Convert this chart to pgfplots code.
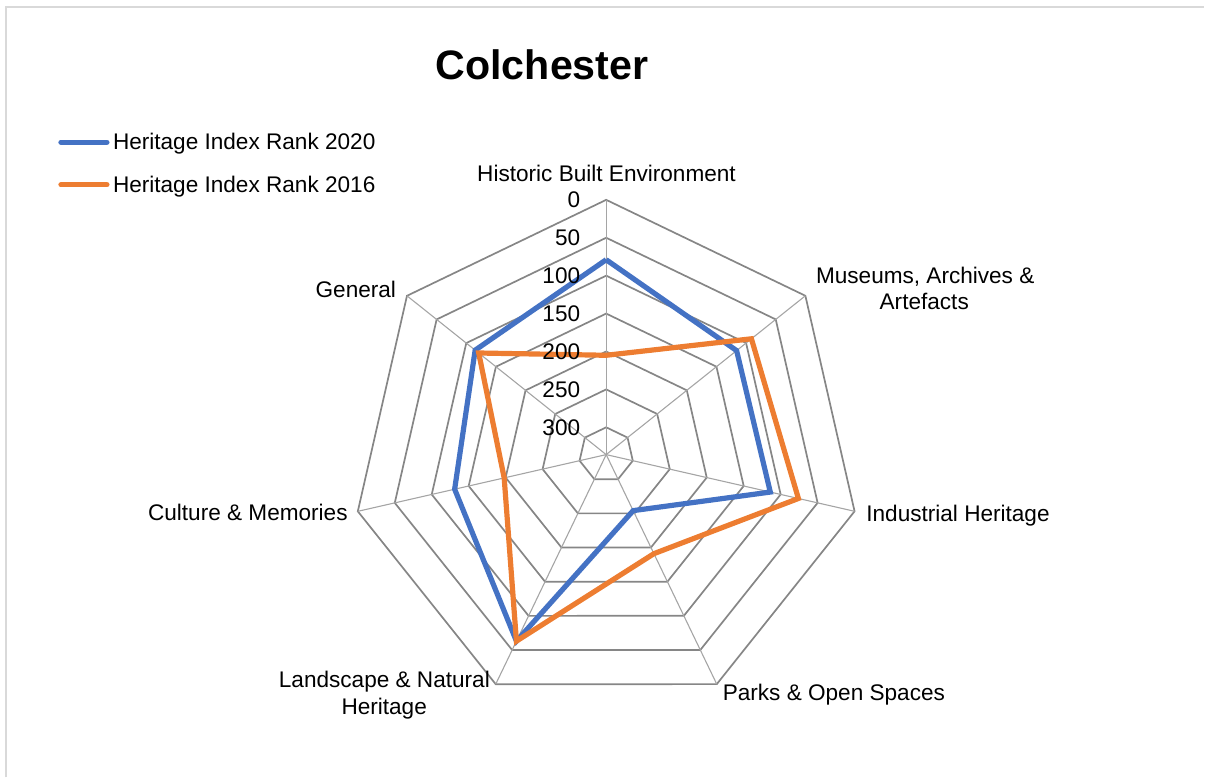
\documentclass[border=0pt]{standalone}
\usepackage{pgfplots}
\pgfplotsset{compat=1.18}
\usepackage{pgfplotstable}
\usepackage{fontspec}
\setmainfont{Liberation Sans}

\definecolor{s2020}{RGB}{68,114,196}
\definecolor{s2016}{RGB}{237,125,49}
\definecolor{ringc}{RGB}{134,134,134}
\definecolor{spokec}{RGB}{165,165,165}
\definecolor{framec}{RGB}{217,217,217}

% rank per category (0 = Historic Built Environment, clockwise); last row closes the loop
\pgfplotstableread{
idx r2020 r2016
0   79    205
1   116   91
2   114   76
3   254   191
4   63    63
5   131   198
6   115   121
7   79    205
}\ranks

% centre of the web in picture pixels, pixels per rank unit, rank at the centre
\def\cx{606.7}
\def\cy{455}
\def\pu{0.7589}
\def\rmax{336}

\newcommand{\lab}{\fontsize{11.3}{13}\selectfont}

\begin{document}
\begin{tikzpicture}
\begin{axis}[
    width=602.5pt, height=389pt, scale only axis,
    xmin=0, xmax=1205, ymin=0, ymax=778,
    y dir=reverse,
    hide axis, clip=false,
]
% frame edges
\draw[framec, line width=1pt] (axis cs:6,778) -- (axis cs:6,7) -- (axis cs:1205,7);

% rings
\pgfplotsinvokeforeach{0,50,100,150,200,250,300}{
  \draw[ringc, line width=0.85pt, line join=miter]
    (axis cs:\cx,{\cy-\pu*(\rmax-#1)})
    \foreach \k in {1,...,6}{
      -- (axis cs:{\cx+\pu*(\rmax-#1)*cos(90-\k*360/7)},{\cy-\pu*(\rmax-#1)*sin(90-\k*360/7)})
    } -- cycle;
}
% spokes
\pgfplotsinvokeforeach{0,...,6}{
  \draw[spokec, line width=0.55pt] (axis cs:\cx,\cy) --
    (axis cs:{\cx+\pu*\rmax*cos(90-#1*360/7)},{\cy-\pu*\rmax*sin(90-#1*360/7)});
}

\addplot[s2020, line width=2.6pt, line join=miter, no marks] table[
  x expr={\cx+\pu*(\rmax-\thisrow{r2020})*cos(90-\thisrow{idx}*360/7)},
  y expr={\cy-\pu*(\rmax-\thisrow{r2020})*sin(90-\thisrow{idx}*360/7)}] {\ranks};
\addplot[s2016, line width=2.6pt, line join=miter, no marks] table[
  x expr={\cx+\pu*(\rmax-\thisrow{r2016})*cos(90-\thisrow{idx}*360/7)},
  y expr={\cy-\pu*(\rmax-\thisrow{r2016})*sin(90-\thisrow{idx}*360/7)}] {\ranks};

% rank labels on the top spoke
\pgfplotsinvokeforeach{0,50,100,150,200,250,300}{
  \node[anchor=base east, inner sep=0pt, font=\lab]
    at (axis cs:581,{\cy-\pu*(\rmax-#1)+7.7}) {#1};
}

% category labels
\node[anchor=base, inner sep=0pt, font=\lab] at (axis cs:607,181.7) {Historic Built Environment};
\node[anchor=base, inner sep=0pt, font=\lab] at (axis cs:926,283.3) {Museums, Archives \&};
\node[anchor=base, inner sep=0pt, font=\lab] at (axis cs:925,310) {Artefacts};
\node[anchor=base west, inner sep=0pt, font=\lab] at (axis cs:866.7,521.7) {Industrial Heritage};
\node[anchor=base west, inner sep=0pt, font=\lab] at (axis cs:723,700.7) {Parks \& Open Spaces};
\node[anchor=base, inner sep=0pt, font=\lab] at (axis cs:384.7,688.3) {Landscape \& Natural};
\node[anchor=base, inner sep=0pt, font=\lab] at (axis cs:384.5,714.8) {Heritage};
\node[anchor=base east, inner sep=0pt, font=\lab] at (axis cs:348.3,520.7) {Culture \& Memories};
\node[anchor=base east, inner sep=0pt, font=\lab] at (axis cs:396.7,297.3) {General};

% title
\node[anchor=base, inner sep=0pt, font=\fontsize{20.6}{24}\selectfont\bfseries] at (axis cs:542.5,79.3) {Colchester};

% legend
\draw[s2020, line width=2.6pt, line cap=round] (axis cs:61,142.3) -- (axis cs:107,142.3);
\node[anchor=base west, inner sep=0pt, font=\lab] at (axis cs:112.7,149.3) {Heritage Index Rank 2020};
\draw[s2016, line width=2.6pt, line cap=round] (axis cs:61,185) -- (axis cs:107,185);
\node[anchor=base west, inner sep=0pt, font=\lab] at (axis cs:112.7,192.3) {Heritage Index Rank 2016};

\path (axis cs:0,0) rectangle (axis cs:1205,778);
\end{axis}
\end{tikzpicture}
\end{document}
